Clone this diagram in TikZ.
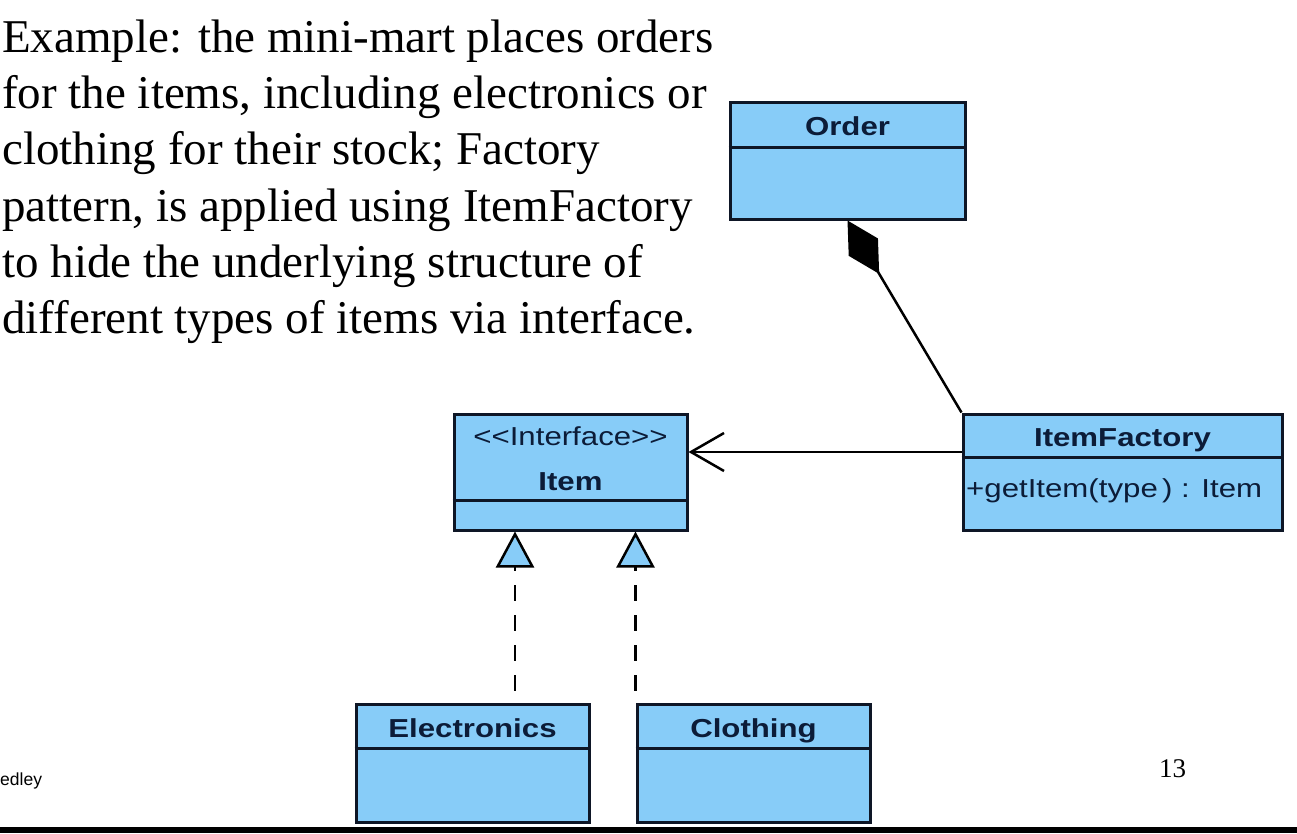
\documentclass[tikz,border=0pt]{standalone}
\usepackage{fontspec}
\setmainfont{Liberation Serif}
\newfontfamily\umlfont[FakeStretch=1.2]{Liberation Sans}
\newfontfamily\footfont{Liberation Sans}
\usetikzlibrary{arrows.meta}
\definecolor{umlfill}{RGB}{135,204,248}
\definecolor{umlline}{RGB}{14,22,38}
\definecolor{umltext}{RGB}{12,28,56}
\begin{document}
\begin{tikzpicture}[x=1pt,y=-1pt,
  classbox/.style={draw=umlline, line width=3pt, fill=umlfill, inner sep=0pt},
  divider/.style={draw=umlline, line width=3pt},
  umltitle/.style={font=\umlfont\bfseries\fontsize{26}{30}\selectfont, text=umltext, inner sep=0pt, anchor=base},
  umlplain/.style={font=\umlfont\fontsize{26}{30}\selectfont, text=umltext, inner sep=0pt, anchor=base},
  bodyline/.style={font=\fontsize{47}{56}\selectfont, anchor=base west, inner sep=0pt},
  conn/.style={draw=black, line width=2.5pt},
  realize/.style={conn, dash pattern=on 16pt off 14pt, dash phase=18pt,
    -{Triangle[length=36pt,width=38pt,fill=umlfill]}}
]
\fill[white] (0,0) rectangle (1297,833);
\useasboundingbox (0,0) rectangle (1297,833);

% text block
\node[bodyline] (l1) at (2,52)  {Example: the mini-mart places orders};
\node[bodyline] (l2) at (2,108) {for the items, including electronics or};
\node[bodyline] (l3) at (2,164) {clothing for their stock; Factory};
\node[bodyline] (l4) at (2,221) {pattern, is applied using ItemFactory};
\node[bodyline] (l5) at (2,277) {to hide the underlying structure of};
\node[bodyline] (l6) at (2,333) {different types of items via interface.};

% Order
\node[classbox, minimum width=235pt, minimum height=117pt] (order) at (847.5,160.5) {};
\draw[divider] (order.west |- 0,147) -- (order.east |- 0,147);
\node[umltitle] (ordert) at (847.5,135) {Order};

% Item
\node[classbox, minimum width=233pt, minimum height=116pt] (item) at (570.5,472) {};
\draw[divider] (item.west |- 0,500) -- (item.east |- 0,500);
\node[umlplain] (itemst) at (570.5,445) {\textless\textless Interface\textgreater\textgreater};
\node[umltitle] (itemt) at (570.5,490) {Item};

% ItemFactory
\node[classbox, minimum width=319pt, minimum height=116pt] (factory) at (1122.5,472) {};
\draw[divider] (factory.west |- 0,457) -- (factory.east |- 0,457);
\node[umltitle] (factoryt) at (1122.5,446) {ItemFactory};
\node[umlplain, anchor=base west] (factorym) at (966,497) {+getItem(type\,) : Item};

% Electronics
\node[classbox, minimum width=233pt, minimum height=118pt] (elec) at (472.5,763) {};
\draw[divider] (elec.west |- 0,748) -- (elec.east |- 0,748);
\node[umltitle] (elect) at (472.5,737) {Electronics};

% Clothing
\node[classbox, minimum width=233pt, minimum height=118pt] (cloth) at (753.5,763) {};
\draw[divider] (cloth.west |- 0,748) -- (cloth.east |- 0,748);
\node[umltitle] (clotht) at (753.5,737) {Clothing};

% connectors
\draw[conn, {Diamond[length=62pt,width=34pt,fill=black]}-] (order.south) -- (factory.north west);
\draw[conn, -{Straight Barb[length=33pt,width=38pt]}] ([yshift=20pt]factory.west) -- ([yshift=20pt]item.east);
\draw[realize] ([xshift=42.5pt]elec.north) -- ([xshift=42.5pt]elec.north |- item.south);
\draw[realize] (cloth.north west) -- (cloth.north west |- item.south);

% footer
\node[font=\footfont\fontsize{17.5}{20}\selectfont, anchor=base west, inner sep=0pt] (foot) at (0,785) {edley};
\node[font=\fontsize{27}{30}\selectfont, anchor=base west, inner sep=0pt] (pagenum) at (1159,777) {13};
\fill[black] (0,827) rectangle (1297,833);
\end{tikzpicture}
\end{document}
